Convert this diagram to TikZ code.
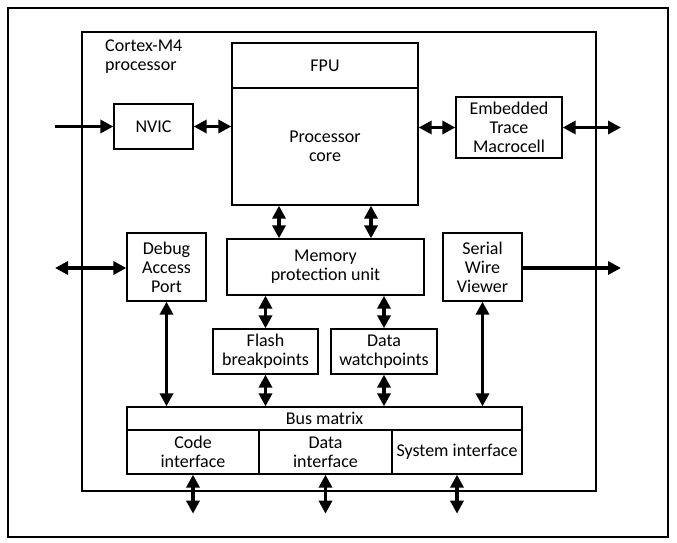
\documentclass[tikz,border=0pt]{standalone}
\usepackage{fontspec}
\setmainfont{Carlito}
\usetikzlibrary{arrows.meta}

\tikzset{
  blk/.style={draw, line width=1.3pt, align=center, inner sep=0pt},
  tip/.tip={Triangle[length=13pt,width=13pt]},
  dbl/.style={line width=3.8pt, tip-tip},
  sgl/.style={line width=3.8pt, -tip},
}

\begin{document}
\begin{tikzpicture}[x=1pt, y=-1pt, font=\fontsize{18}{19}\selectfont]
		\useasboundingbox (0,0) rectangle (677,542);
		%\draw[blue] (0,0) grid[step=50] (677,542);

		\draw [line width=1.3pt] (8,8) rectangle (668,537);
		\draw [line width=1.3pt] (82,32) rectangle (596,491);
		\node [anchor=north west, align=left, inner sep=0pt] (cpulabel) at (105,39.5) {Cortex-M4\\processor};

		\node [blk, minimum width=186pt, minimum height=45pt] (fpu) at (325,65.5) {FPU};
		\node [blk, minimum width=186pt, minimum height=117pt] (core) at (325,146.5) {Processor\\core};
		\node [blk, minimum width=79pt, minimum height=45pt] (nvic) at (153.5,126.5) {NVIC};
		\node [blk, minimum width=106pt, minimum height=61pt] (etm) at (509,127.5) {Embedded\\Trace\\Macrocell};

		\node [blk, minimum width=79pt, minimum height=68pt] (dap) at (166.5,267) {Debug\\Access\\Port};
		\node [blk, minimum width=197pt, minimum height=56pt] (mpu) at (325.5,267) {Memory\\protection unit};
		\node [blk, minimum width=79pt, minimum height=68pt] (swv) at (482.5,267) {Serial\\Wire\\Viewer};

		\node [blk, minimum width=105pt, minimum height=45pt] (flash) at (265.5,351.5) {Flash\\breakpoints};
		\node [blk, minimum width=106pt, minimum height=45pt] (dwatch) at (384,351.5) {Data\\watchpoints};

		\node [blk, minimum width=395pt, minimum height=23pt] (bus) at (324.5,418.5) {Bus matrix};
		\node [blk, minimum width=132pt, minimum height=44pt] (code) at (193,452) {Code\\interface};
		\node [blk, minimum width=133pt, minimum height=44pt] (data) at (325.5,452) {Data\\interface};
		\node [blk, minimum width=130pt, minimum height=44pt] (sys) at (457,452) {System interface};

		% free ends
		\coordinate (irq) at (55,126.5);
		\coordinate (dapext) at (55,268);
		\coordinate (etmext) at (621,127.5);
		\coordinate (swvext) at (621,268);

		\draw [sgl] (irq) -- (nvic.west);
		\draw [dbl] (nvic.east) -- (nvic.east -| core.west);
		\draw [dbl] (etm.west -| core.east) -- (etm.west);
		\draw [dbl] (etm.east) -- (etmext);
		\draw [dbl] (dapext) -- (dap.west |- dapext);
		\draw [sgl] (swv.east |- swvext) -- (swvext);

		\draw [dbl] ([xshift=-46pt]core.south) -- ([xshift=-46pt]core.south |- mpu.north);
		\draw [dbl] ([xshift=46pt]core.south) -- ([xshift=46pt]core.south |- mpu.north);
		\draw [dbl] (flash.north |- mpu.south) -- (flash.north);
		\draw [dbl] (dwatch.north |- mpu.south) -- (dwatch.north);
		\draw [dbl] (flash.south) -- (flash.south |- bus.north);
		\draw [dbl] (dwatch.south) -- (dwatch.south |- bus.north);
		\draw [dbl] (dap.south) -- (dap.south |- bus.north);
		\draw [dbl] (swv.south) -- (swv.south |- bus.north);

		\draw [dbl] (code.south) -- ++(0,39);
		\draw [dbl] (data.south) -- ++(0,39);
		\draw [dbl] (sys.south) -- ++(0,39);
\end{tikzpicture}
\end{document}
